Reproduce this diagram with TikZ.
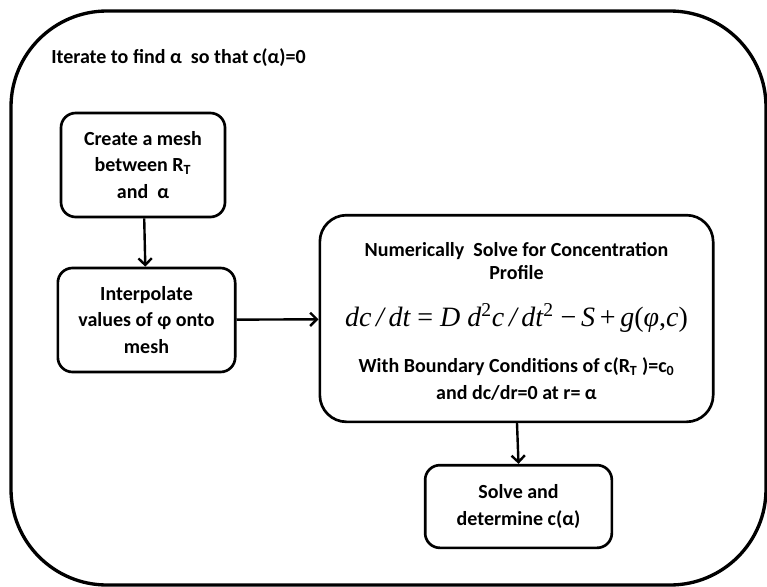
\documentclass[tikz,border=0pt]{standalone}
\usepackage{fontspec}
\setmainfont{Carlito}
\newfontfamily\eqfont{Liberation Serif}
\usetikzlibrary{arrows.meta}
\tikzset{
  stepbox/.style={draw, line width=2pt, rounded corners=11pt, align=center,
    font=\bfseries\fontsize{15}{20}\selectfont, inner sep=2pt},
  flow/.style={line width=1.8pt, -{Straight Barb[length=5pt,width=10pt,line width=1.8pt]}}
}
\newcommand{\sbt}[1]{\textsubscript{#1}}
\begin{document}
\begin{tikzpicture}[x=0.75pt, y=-0.75pt]
  \useasboundingbox (0,0) rectangle (767,586);
  % outer loop
  \draw[line width=2.5pt, rounded corners=72pt] (11,11) rectangle (766,585);
  \node[anchor=base west, inner sep=0pt, font=\bfseries\fontsize{15}{18}\selectfont] (iter) at (51,63)
    {Iterate to find α\ \ so that c(α)=0};
  % steps
  \node[stepbox, minimum width=123pt, minimum height=78pt] (mesh) at (143,165)
    {Create a mesh\\between R\sbt{T}\\and\ \ α};
  \node[stepbox, minimum width=133pt, minimum height=78pt] (interp) at (146.5,320)
    {Interpolate\\values of φ onto\\mesh};
  \node[stepbox, rounded corners=20pt, minimum width=295pt, minimum height=155pt] (solve) at (516.5,318.5) {};
  \node[align=center, font=\bfseries\fontsize{15}{20}\selectfont, anchor=north] (solvetext) at (516.5,238)
    {Numerically\ \ Solve for Concentration\\[-3pt]Profile\\[15pt]
     {\eqfont\fontsize{21}{24}\selectfont\mdseries\itshape dc\,/\,dt\ {\upshape=}\ D\ d\textsuperscript{\upshape 2}c\,/\,dt\textsuperscript{\upshape 2}\ {\upshape −}\,S\,{\upshape +}\,g{\upshape (}φ{\upshape ,}c{\upshape )}}\\[15pt]
     With Boundary Conditions of c(R\sbt{T} )=c\sbt{0}\\and dc/dr=0 at r= α};
  \node[stepbox, minimum width=140pt, minimum height=62pt] (result) at (518.5,506.5)
    {Solve and\\determine c(α)};
  % connectors
  \draw[flow] (mesh) -- (interp);
  \draw[flow] (interp) -- (solve);
  \draw[flow] (solve.south) ++(0.5,0) -- (result.north);
\end{tikzpicture}
\end{document}
